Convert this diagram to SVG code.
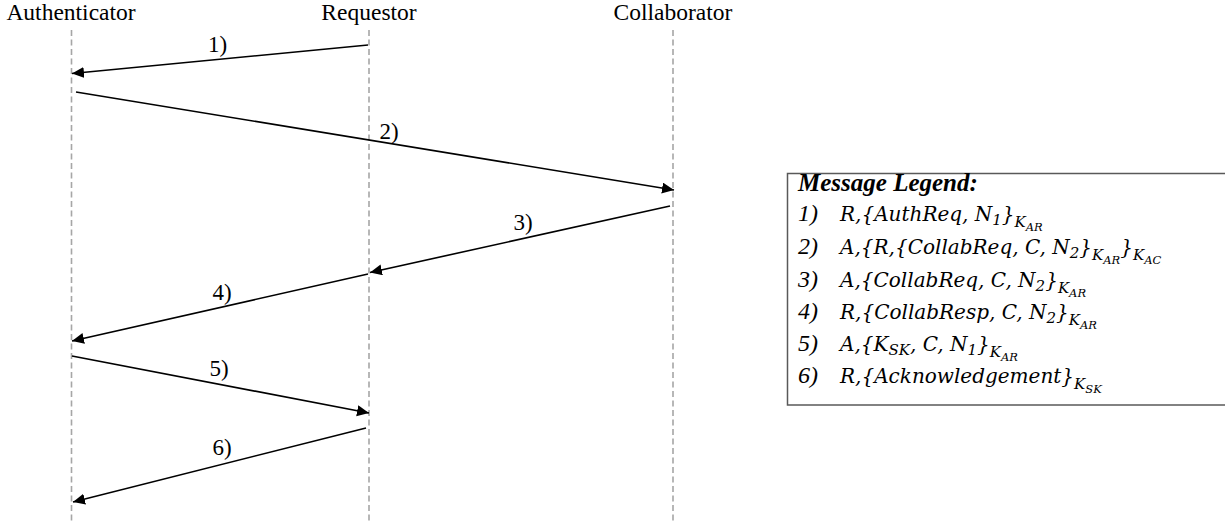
<svg xmlns="http://www.w3.org/2000/svg" width="1225" height="523" viewBox="0 0 1225 523">
<style>
.hdr{font-family:"Liberation Serif","Times New Roman",serif;font-size:23.5px;fill:#000;text-anchor:middle}
.lbl{font-family:"Liberation Serif","Times New Roman",serif;font-size:23px;fill:#000;text-anchor:middle}
.life{stroke:#a6a6a6;stroke-width:1.6;stroke-dasharray:6 3.5;fill:none}
.msg{stroke:#000;stroke-width:1.6;fill:none;marker-end:url(#ah)}
.lgt{font-family:"Liberation Serif","Times New Roman",serif;font-size:25px;font-weight:bold;font-style:italic;fill:#000}
.lg{font-family:"DejaVu Serif",serif;font-size:20px;font-style:italic;fill:#000}
.num{font-family:"Liberation Serif","Times New Roman",serif;font-size:24px}
.s1{font-size:15px}
.s2{font-size:11.5px}
</style>
<defs>
<marker id="ah" markerUnits="userSpaceOnUse" markerWidth="13" markerHeight="12" refX="12" refY="5.5" orient="auto">
<path d="M0,0 L12,5.5 L0,11 z" fill="#000"/>
</marker>
</defs>
<g id="authenticator">
<text class="hdr" x="71" y="20">Authenticator</text>
<line class="life" x1="71.5" y1="30" x2="71.5" y2="523"/>
</g>
<g id="requestor">
<text class="hdr" x="369" y="20">Requestor</text>
<line class="life" x1="369" y1="30" x2="369" y2="523"/>
</g>
<g id="collaborator">
<text class="hdr" x="673" y="20">Collaborator</text>
<line class="life" x1="673" y1="30" x2="673" y2="523"/>
</g>
<g id="connectors">
<line class="msg" x1="368" y1="45" x2="72" y2="73.5"/>
<text class="lbl" x="217.5" y="52">1)</text>
<line class="msg" x1="76" y1="92" x2="674" y2="190"/>
<text class="lbl" x="389" y="139">2)</text>
<line class="msg" x1="670" y1="206" x2="370" y2="272.5"/>
<text class="lbl" x="523" y="230">3)</text>
<line class="msg" x1="368" y1="274" x2="72" y2="341"/>
<text class="lbl" x="222" y="300">4)</text>
<line class="msg" x1="72" y1="356" x2="369" y2="413"/>
<text class="lbl" x="219" y="376">5)</text>
<line class="msg" x1="366" y1="428" x2="73" y2="502"/>
<text class="lbl" x="222" y="455">6)</text>
</g>
<g id="legend">
<rect x="787.5" y="173.5" width="440" height="231.5" fill="#fff" stroke="#595959" stroke-width="1.5"/>
<text class="lgt" x="798" y="191">Message Legend:</text>
<text class="lg" y="221"><tspan class="num" x="798">1)</tspan><tspan x="840">R,{AuthReq, N</tspan><tspan class="s1" dy="4">1</tspan><tspan dy="-4">}</tspan><tspan class="s1" dy="6">K</tspan><tspan class="s2" dy="4">AR</tspan></text>
<text class="lg" y="254"><tspan class="num" x="798">2)</tspan><tspan x="840">A,{R,{CollabReq, C, N</tspan><tspan class="s1" dy="4">2</tspan><tspan dy="-4">}</tspan><tspan class="s1" dy="6">K</tspan><tspan class="s2" dy="4">AR</tspan><tspan dy="-10">}</tspan><tspan class="s1" dy="6">K</tspan><tspan class="s2" dy="4">AC</tspan></text>
<text class="lg" y="287"><tspan class="num" x="798">3)</tspan><tspan x="840">A,{CollabReq, C, N</tspan><tspan class="s1" dy="4">2</tspan><tspan dy="-4">}</tspan><tspan class="s1" dy="6">K</tspan><tspan class="s2" dy="4">AR</tspan></text>
<text class="lg" y="319"><tspan class="num" x="798">4)</tspan><tspan x="840">R,{CollabResp, C, N</tspan><tspan class="s1" dy="4">2</tspan><tspan dy="-4">}</tspan><tspan class="s1" dy="6">K</tspan><tspan class="s2" dy="4">AR</tspan></text>
<text class="lg" y="351"><tspan class="num" x="798">5)</tspan><tspan x="840">A,{K</tspan><tspan class="s1" dy="4">SK</tspan><tspan dy="-4">, C, N</tspan><tspan class="s1" dy="4">1</tspan><tspan dy="-4">}</tspan><tspan class="s1" dy="6">K</tspan><tspan class="s2" dy="4">AR</tspan></text>
<text class="lg" y="383"><tspan class="num" x="798">6)</tspan><tspan x="840">R,{Acknowledgement}</tspan><tspan class="s1" dy="6">K</tspan><tspan class="s2" dy="4">SK</tspan></text>
</g>
</svg>
